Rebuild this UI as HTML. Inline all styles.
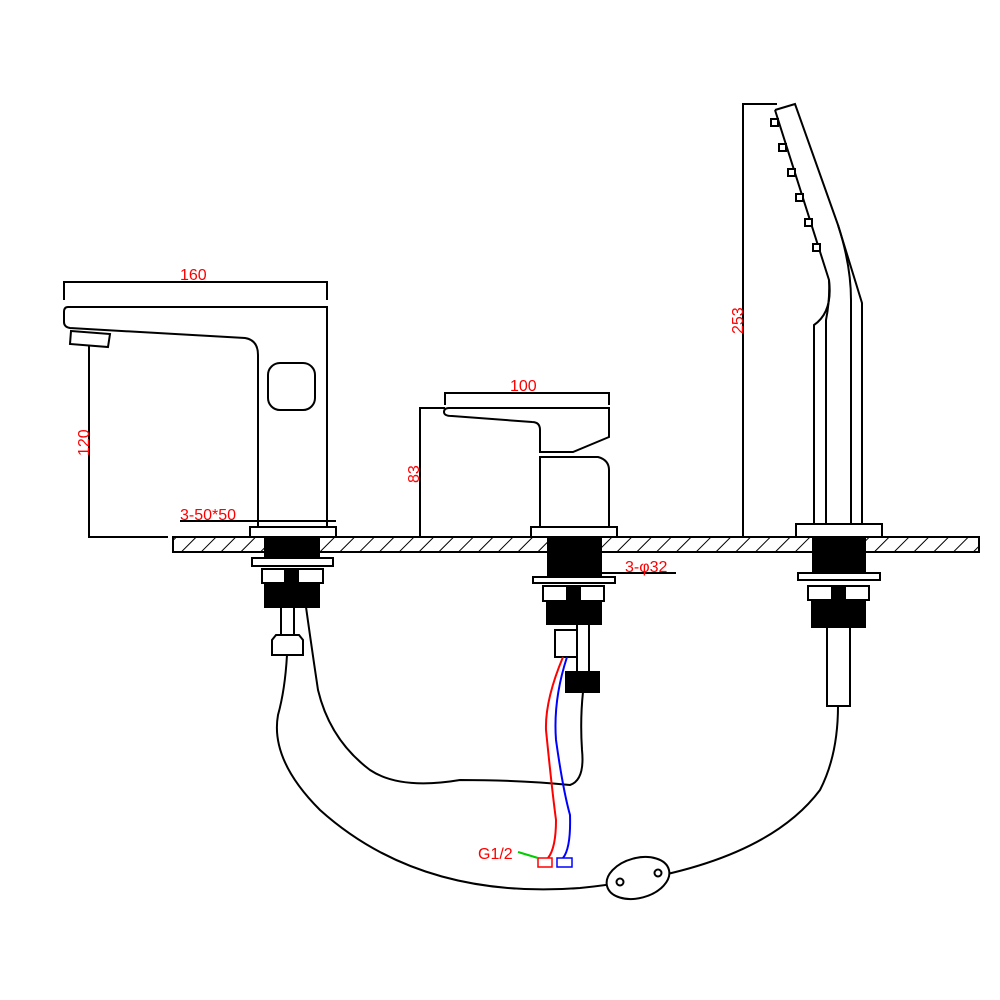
<!DOCTYPE html>
<html><head><style>body{margin:0;background:#fff}svg{display:block}</style></head><body>
<svg width="1000" height="1000" viewBox="0 0 1000 1000" xmlns="http://www.w3.org/2000/svg" font-family="Liberation Sans, sans-serif">
<defs>
<pattern id="h" width="14" height="14" patternUnits="userSpaceOnUse" patternTransform="rotate(45)">
<line x1="0" y1="0" x2="0" y2="14" stroke="#000" stroke-width="2"/></pattern>
</defs>
<g fill="none" stroke="#000" stroke-width="2">
<!-- counter -->
<rect x="173" y="537" width="806" height="15" fill="url(#h)"/>
<!-- left faucet -->
<rect x="250" y="527" width="86" height="10" fill="#fff"/>
<path d="M327 527 V307 H68 Q64 307 64 312 V322 Q64 327 70 328 L245 338 Q258 340 258 355 V527"/>
<path d="M71 331 L110 334 L108 347 L70 344 Z"/>
<rect x="268" y="363" width="47" height="47" rx="12"/>
<path d="M64 300 V282 H327 V300"/>
<path d="M89 345 V537 H168"/>
<line x1="180" y1="521" x2="336" y2="521"/>
<!-- left under -->
<rect x="265" y="537" width="54" height="21" fill="#000"/>
<rect x="252" y="558" width="81" height="8" fill="#fff"/>
<rect x="262" y="569" width="61" height="14" fill="#fff"/>
<rect x="285" y="569" width="13" height="14" fill="#000"/>
<rect x="265" y="583" width="54" height="24" fill="#000"/>
<rect x="281" y="607" width="13" height="28"/>
<path d="M272 655 V640 L276 635 H299 L303 640 V655 Z"/>
<!-- middle faucet -->
<rect x="531" y="527" width="86" height="10" fill="#fff"/>
<path d="M540 527 V457 H598 Q609 460 609 470 V527"/>
<path d="M449 408 H609 V437 L573 452 H540 V430 Q540 422 532 422 L452 416 Q444 416 444 412 Q444 408 449 408"/>
<path d="M445 405 V393 H609 V405"/>
<path d="M420 537 V408 H445"/>
<line x1="601" y1="573" x2="676" y2="573"/>
<rect x="548" y="537" width="53" height="40" fill="#000"/>
<rect x="533" y="577" width="82" height="6" fill="#fff"/>
<rect x="543" y="586" width="61" height="15" fill="#fff"/>
<rect x="567" y="586" width="13" height="15" fill="#000"/>
<rect x="547" y="601" width="54" height="23" fill="#000"/>
<rect x="555" y="630" width="22" height="27"/>
<path d="M577 624 V672 H589 V624"/>
<rect x="566" y="672" width="33" height="20" fill="#000"/>
<!-- right -->
<path d="M743 537 V104 H777"/>
<path d="M775 110 L795 104 L838 225 L862 303 V524"/>
<path d="M775 110 L829 280 Q833 312 814 325 V524"/>
<path d="M838 225 Q851 265 851 300 V524"/>
<path d="M826 524 V320 Q830 300 829 280"/>
<g fill="#fff"><rect x="771" y="119" width="7" height="7"/><rect x="779" y="144" width="7" height="7"/><rect x="788" y="169" width="7" height="7"/><rect x="796" y="194" width="7" height="7"/><rect x="805" y="219" width="7" height="7"/><rect x="813" y="244" width="7" height="7"/></g>
<rect x="796" y="524" width="86" height="13" fill="#fff"/>
<rect x="813" y="537" width="52" height="36" fill="#000"/>
<rect x="798" y="573" width="82" height="7" fill="#fff"/>
<rect x="808" y="586" width="61" height="14" fill="#fff"/>
<rect x="832" y="586" width="13" height="14" fill="#000"/>
<rect x="812" y="600" width="53" height="27" fill="#000"/>
<rect x="827" y="627" width="23" height="79"/>
<!-- hoses -->
<path d="M287 655 Q285 690 278 715 Q270 760 320 810 Q420 900 580 888 Q760 870 820 790 Q838 755 838 706"/>
<path d="M306 607 Q312 650 318 690 Q330 740 370 770 Q400 790 460 780 Q520 780 570 785 Q585 780 582 750 Q580 720 583 692"/>
<ellipse cx="638" cy="878" rx="32" ry="20" transform="rotate(-15 638 878)" fill="#fff"/>
<circle cx="620" cy="882" r="3.5"/><circle cx="658" cy="873" r="3.5"/>
<path d="M563 657 Q545 700 546 730 Q552 790 556 820 Q556 848 548 858" stroke="#f00"/>
<path d="M567 657 Q553 700 556 740 Q563 790 570 815 Q571 848 563 858" stroke="#00f"/>
<rect x="538" y="858" width="14" height="9" stroke="#f00" stroke-width="1.5"/>
<rect x="557" y="858" width="15" height="9" stroke="#00f" stroke-width="1.5"/>
<line x1="518" y1="852" x2="538" y2="858" stroke="#0c0"/>
</g>
<g fill="#f00" font-size="16">
<text x="180" y="280">160</text>
<text x="510" y="391">100</text>
<text x="180" y="520">3-50*50</text>
<text x="625" y="572">3-φ32</text>
<text x="478" y="859">G1/2</text>
<text transform="translate(89,456) rotate(-90)">120</text>
<text transform="translate(419,483) rotate(-90)">83</text>
<text transform="translate(743,334) rotate(-90)">253</text>
</g>
</svg>
</body></html>
